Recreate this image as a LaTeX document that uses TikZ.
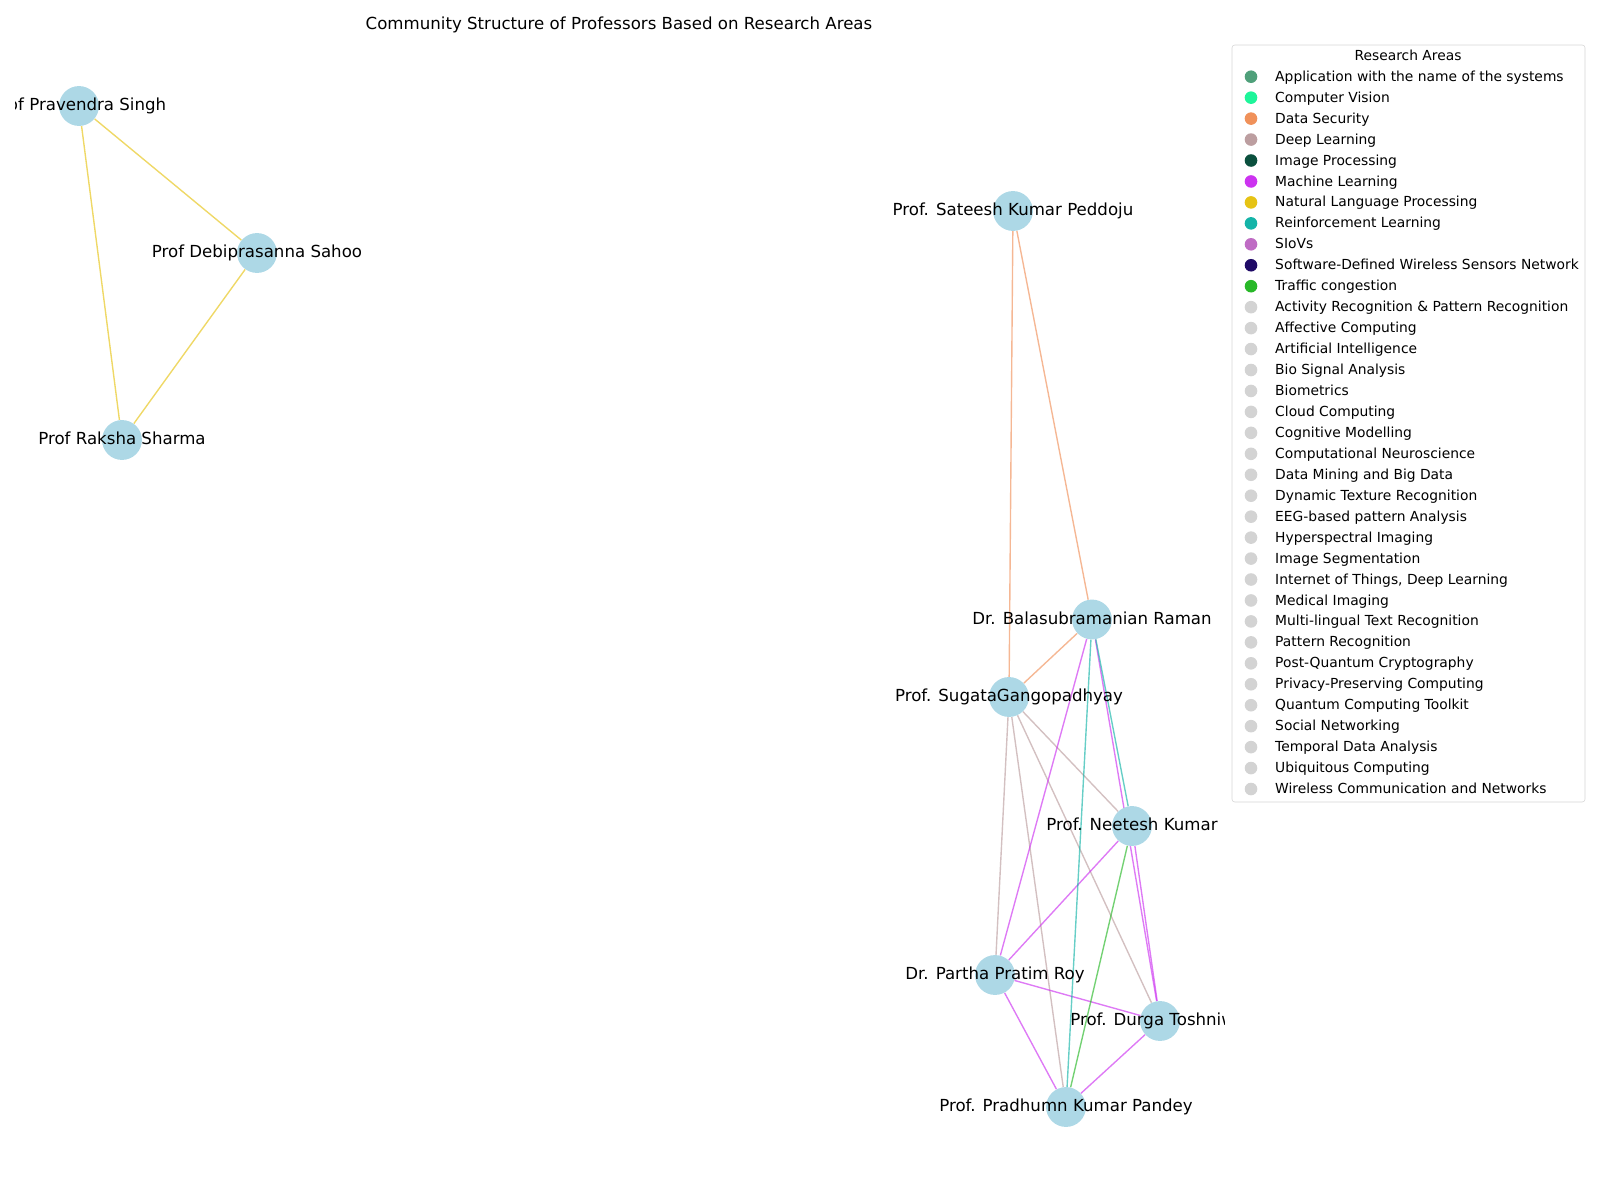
\documentclass[tikz,border=0pt]{standalone}
\usepackage{fontspec}
\setmainfont{DejaVu Sans}
\usetikzlibrary{backgrounds}

\definecolor{appcol}{RGB}{79,160,122}
\definecolor{cvcol}{RGB}{30,245,154}
\definecolor{dscol}{RGB}{240,145,90}
\definecolor{dlcol}{RGB}{188,158,160}
\definecolor{ipcol}{RGB}{11,80,62}
\definecolor{mlcol}{RGB}{204,51,240}
\definecolor{nlpcol}{RGB}{230,195,20}
\definecolor{rlcol}{RGB}{20,180,168}
\definecolor{siovcol}{RGB}{191,108,196}
\definecolor{sdwcol}{RGB}{31,10,102}
\definecolor{tccol}{RGB}{40,184,40}
\definecolor{othercol}{RGB}{211,211,211}
\definecolor{nodeblue}{RGB}{173,216,230}
\definecolor{framegray}{RGB}{214,214,214}

\tikzset{
	prof/.style={circle, fill=nodeblue, minimum size=28.8pt, inner sep=0pt},
	proflabel/.style={anchor=base, inner sep=0pt, font=\fontsize{12}{14.4}\selectfont},
	link/.style={line width=1pt, draw opacity=0.65},
	legmark/.style={circle, minimum size=9.1pt, inner sep=0pt},
	legtext/.style={anchor=base west, inner sep=0pt, font=\fontsize{10}{12}\selectfont},
}

\begin{document}
\begin{tikzpicture}[x=0.01in, y=-0.01in]
	\useasboundingbox (0,0) rectangle (1600,1200);
	
	\coordinate (c-pravendra) at (79,106);
	\coordinate (c-debi) at (257,253);
	\coordinate (c-raksha) at (122,440);
	\coordinate (c-sateesh) at (1013,211);
	\coordinate (c-bala) at (1092,619.5);
	\coordinate (c-sugata) at (1009,697);
	\coordinate (c-neetesh) at (1132,826);
	\coordinate (c-partha) at (995,975);
	\coordinate (c-durga) at (1160,1021);
	\coordinate (c-pradhumn) at (1066,1107);
	
	\begin{scope}
		\clip (15,0) rectangle (1224,1200);
		\foreach \p in {pravendra,debi,raksha,sateesh,bala,sugata,neetesh,partha,durga,pradhumn}
			\node[prof] (\p) at (c-\p) {};
		
		\node[proflabel] at ([yshift=-3.6pt]pravendra.center) {Prof Pravendra Singh};
		\node[proflabel] at ([yshift=-3.6pt]debi.center) {Prof Debiprasanna Sahoo};
		\node[proflabel] at ([yshift=-3.6pt]raksha.center) {Prof Raksha Sharma};
		\node[proflabel] at ([yshift=-3.6pt]sateesh.center) {Prof. Sateesh Kumar Peddoju};
		\node[proflabel] at ([yshift=-3.6pt]bala.center) {Dr. Balasubramanian Raman};
		\node[proflabel] at ([yshift=-3.6pt]sugata.center) {Prof. SugataGangopadhyay};
		\node[proflabel] at ([yshift=-3.6pt]neetesh.center) {Prof. Neetesh Kumar};
		\node[proflabel] at ([yshift=-3.6pt]partha.center) {Dr. Partha Pratim Roy};
		\node[proflabel] at ([yshift=-3.6pt]durga.center) {Prof. Durga Toshniwal};
		\node[proflabel] at ([yshift=-3.6pt]pradhumn.center) {Prof. Pradhumn Kumar Pandey};
	\end{scope}
	
	\begin{pgfonlayer}{background}
		\draw[link, nlpcol] (pravendra) -- (debi);
		\draw[link, nlpcol] (pravendra) -- (raksha);
		\draw[link, nlpcol] (debi) -- (raksha);
		\draw[link, dscol] (sateesh) -- (sugata);
		\draw[link, dscol] (sateesh) -- (bala);
		\draw[link, dscol] (bala) -- (sugata);
		\draw[link, dlcol] (sugata) -- (partha);
		\draw[link, dlcol] (sugata) -- (pradhumn);
		\draw[link, dlcol] (sugata) -- (neetesh);
		\draw[link, dlcol] (sugata) -- (durga);
		\draw[link, mlcol] (bala) -- (partha);
		\draw[link, mlcol] (bala) -- (durga);
		\draw[link, mlcol] (neetesh) -- (partha);
		\draw[link, mlcol] (neetesh) -- (durga);
		\draw[link, mlcol] (partha) -- (durga);
		\draw[link, mlcol] (partha) -- (pradhumn);
		\draw[link, mlcol] (durga) -- (pradhumn);
		\draw[link, rlcol] (bala) -- (neetesh);
		\draw[link, rlcol] (bala) -- (pradhumn);
		\draw[link, tccol] (neetesh) -- (pradhumn);
	\end{pgfonlayer}
	
	\node[anchor=base, inner sep=0pt, font=\fontsize{12}{14.4}\selectfont] (title) at (619,29.5) {Community Structure of Professors Based on Research Areas};
	
	\draw[framegray, fill=white, rounded corners=2pt] (1232,45) rectangle (1585,802);
	\node[anchor=base, inner sep=0pt, font=\fontsize{10}{12}\selectfont] (legtitle) at (1408,60.7) {Research Areas};
	\foreach \area/\col [count=\i from 0] in {
		Application with the name of the systems/appcol,
		Computer Vision/cvcol,
		Data Security/dscol,
		Deep Learning/dlcol,
		Image Processing/ipcol,
		Machine Learning/mlcol,
		Natural Language Processing/nlpcol,
		Reinforcement Learning/rlcol,
		SIoVs/siovcol,
		Software-Defined Wireless Sensors Network/sdwcol,
		Traffic congestion/tccol,
		Activity Recognition \& Pattern Recognition/othercol,
		Affective Computing/othercol,
		Artificial Intelligence/othercol,
		Bio Signal Analysis/othercol,
		Biometrics/othercol,
		Cloud Computing/othercol,
		Cognitive Modelling/othercol,
		Computational Neuroscience/othercol,
		Data Mining and Big Data/othercol,
		Dynamic Texture Recognition/othercol,
		EEG-based pattern Analysis/othercol,
		Hyperspectral Imaging/othercol,
		Image Segmentation/othercol,
		{Internet of Things, Deep Learning}/othercol,
		Medical Imaging/othercol,
		Multi-lingual Text Recognition/othercol,
		Pattern Recognition/othercol,
		Post-Quantum Cryptography/othercol,
		Privacy-Preserving Computing/othercol,
		Quantum Computing Toolkit/othercol,
		Social Networking/othercol,
		Temporal Data Analysis/othercol,
		Ubiquitous Computing/othercol,
		Wireless Communication and Networks/othercol}
	{
		\node[legmark, fill=\col] (m\i) at (1251,76.7+20.95*\i) {};
		\node[legtext] (t\i) at ([xshift=17.3pt, yshift=-3.3pt]m\i.center) {\area};
	}
\end{tikzpicture}
\end{document}
